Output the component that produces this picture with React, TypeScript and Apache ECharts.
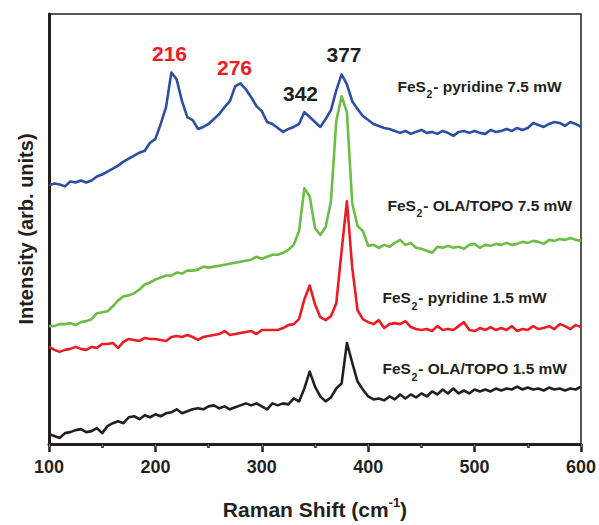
import React, { useEffect, useRef } from "react";
import * as echarts from "echarts";

// Raman shift (cm-1) sample positions
const ramanShift = [
  100, 105, 110, 115, 120, 125, 130, 135, 140, 145,
  150, 155, 160, 165, 170, 175, 180, 185, 190, 195,
  200, 205, 210, 215, 220, 225, 230, 235, 240, 245,
  250, 255, 260, 265, 270, 275, 280, 285, 290, 295,
  300, 305, 310, 315, 320, 325, 330, 335, 340, 345,
  350, 355, 360, 365, 370, 375, 380, 385, 390, 395,
  400, 405, 410, 415, 420, 425, 430, 435, 440, 445,
  450, 455, 460, 465, 470, 475, 480, 485, 490, 495,
  500, 505, 510, 515, 520, 525, 530, 535, 540, 545,
  550, 555, 560, 565, 570, 575, 580, 585, 590, 595,
  600,
];

// Intensities (arb. units, offset stacked as in the figure)
const pyridine75 = [
  261, 263, 262, 260, 265, 264, 266, 264, 266, 270,
  272, 275, 278, 281, 285, 288, 291, 294, 296, 304,
  308, 323, 340, 375, 368, 346, 330, 327, 318, 320,
  323, 328, 333, 340, 346, 361, 364, 358, 350, 341,
  336, 325, 323, 319, 315, 318, 320, 323, 335, 330,
  325, 320, 328, 337, 357, 373, 363, 346, 338, 331,
  327, 323, 321, 319, 318, 316, 314, 316, 313, 315,
  317, 314, 315, 313, 316, 314, 311, 315, 316, 314,
  316, 314, 313, 317, 315, 316, 318, 316, 319, 317,
  319, 324, 322, 320, 323, 325, 324, 321, 325, 323,
  320,
];

const olaTopo75 = [
  119, 119, 121, 121, 122, 120, 123, 124, 126, 132,
  133, 134, 139, 145, 149, 150, 152, 156, 161, 163,
  166, 168, 170, 170, 173, 172, 175, 175, 176, 179,
  178, 179, 180, 181, 182, 183, 184, 185, 186, 189,
  187, 189, 191, 191, 193, 196, 201, 215, 258, 250,
  218, 211, 219, 245, 326, 351, 335, 243, 220, 215,
  200, 201, 198, 201, 199, 203, 206, 201, 203, 198,
  197, 195, 193, 199, 198, 200, 198, 199, 197, 201,
  202, 198, 201, 200, 202, 201, 203, 201, 202, 204,
  203, 205, 204, 202, 206, 205, 207, 206, 208, 206,
  205,
];

const pyridine15 = [
  98, 95, 93, 95, 96, 98, 96, 95, 98, 97,
  101, 101, 102, 97, 103, 106, 105, 104, 107, 106,
  106, 105, 104, 108, 109, 108, 110, 108, 105, 108,
  109, 110, 111, 114, 110, 111, 112, 113, 114, 111,
  115, 115, 115, 115, 117, 120, 121, 126, 146, 160,
  141, 128, 125, 129, 142, 195, 245, 178, 135, 126,
  123, 121, 125, 117, 121, 122, 121, 124, 118, 116,
  115, 116, 114, 119, 115, 116, 115, 119, 123, 115,
  114, 117, 115, 118, 115, 117, 115, 119, 114, 116,
  115, 119, 116, 117, 119, 116, 121, 119, 116, 120,
  118,
];

const olaTopo15 = [
  10, 8, 6, 11, 12, 14, 15, 12, 13, 16,
  11, 18, 21, 23, 21, 27, 28, 25, 29, 27,
  30, 28, 31, 32, 35, 31, 33, 35, 36, 35,
  38, 39, 36, 38, 35, 37, 39, 41, 39, 41,
  38, 35, 41, 39, 41, 40, 46, 43, 56, 73,
  58, 48, 43, 47, 56, 61, 102, 82, 63, 55,
  48, 45, 46, 44, 48, 45, 50, 46, 50, 47,
  51, 48, 53, 50, 55, 51, 56, 51, 54, 51,
  55, 53, 55, 53, 56, 54, 56, 55, 58, 55,
  57, 55, 56, 54, 57, 55, 56, 54, 56, 55,
  58,
];

const peakLabels = ["216", "276", "342", "377"];
const sampleNames = ["pyridine 7.5 mW", "OLA/TOPO 7.5 mW", "pyridine 1.5 mW", "OLA/TOPO 1.5 mW"];

const FONT = "'Liberation Sans', Arial, Helvetica, sans-serif";
const INK = "#231f20";
const BLUE = "#2c4fa3";
const GREEN = "#6bbd45";
const RED = "#ec1c24";

export default function App() {
  const ref = useRef<HTMLDivElement>(null);

  useEffect(() => {
    const chart = echarts.init(ref.current!, null, { renderer: "svg" });
    const pair = (ys: number[]) => ramanShift.map((x, i) => [x, ys[i]]);
    const mkSeries = (name: string, ys: number[], color: string) => ({
      name,
      type: "line",
      data: pair(ys),
      showSymbol: false,
      symbol: "none",
      lineStyle: { color, width: 2.6, join: "round" },
      itemStyle: { color },
      silent: true,
    });

    const mainFont = `bold 15.5px ${FONT}`;
    const subFont = `bold 10.5px ${FONT}`;
    const ctx = document.createElement("canvas").getContext("2d")!;
    ctx.font = mainFont;
    const wFeS = ctx.measureText("FeS").width;
    ctx.font = subFont;
    const wSub = ctx.measureText("2").width;

    const sampleLabel = (name: string, x: number, yc: number) => ({
      type: "group",
      silent: true,
      children: [
        { type: "text", x, y: yc, style: { text: "FeS", font: mainFont, fill: INK, align: "left", verticalAlign: "middle" } },
        { type: "text", x: x + wFeS + 0.5, y: yc + 8, style: { text: "2", font: subFont, fill: INK, align: "left", verticalAlign: "middle" } },
        { type: "text", x: x + wFeS + wSub + 1.5, y: yc, style: { text: `- ${name}`, font: mainFont, fill: INK, align: "left", verticalAlign: "middle" } },
      ],
    });
    const peakText = (t: string, x: number, y: number, color: string) => ({
      type: "text",
      x,
      y,
      silent: true,
      style: {
        text: t,
        fill: color,
        font: `bold 21px ${FONT}`,
        align: "center",
        verticalAlign: "middle",
      },
    });

    chart.setOption({
      animation: false,
      backgroundColor: "#ffffff",
      grid: {
        left: 49,
        right: 15,
        top: 14,
        bottom: 77,
        show: true,
        borderColor: INK,
        borderWidth: 1.5,
      },
      xAxis: [
        {
          type: "value",
          min: 100,
          max: 600,
          interval: 100,
          axisLine: { show: true, onZero: false, lineStyle: { color: INK, width: 3 } },
          axisTick: { show: true, inside: false, length: 8, lineStyle: { color: INK, width: 2.5 } },
          minorTick: { show: true, splitNumber: 2, length: 4, lineStyle: { color: INK, width: 2.5 } },
          splitLine: { show: false },
          axisLabel: { color: INK, fontSize: 18, fontWeight: "bold", fontFamily: FONT, margin: 14 },
          name: "{a|Raman Shift (cm}{s|-1}{a|)}",
          nameLocation: "middle",
          nameGap: 52,
          nameTextStyle: {
            rich: {
              a: { fontSize: 21, fontWeight: "bold", fontFamily: FONT, color: INK, lineHeight: 24, verticalAlign: "bottom" },
              s: { fontSize: 13, fontWeight: "bold", fontFamily: FONT, color: INK, lineHeight: 12, verticalAlign: "top" },
            },
          },
        },
        {
          type: "value",
          position: "top",
          min: 100,
          max: 600,
          interval: 50,
          axisLine: { show: false },
          axisTick: { show: true, inside: true, length: 3, lineStyle: { color: "#777777", width: 1 } },
          axisLabel: { show: false },
          splitLine: { show: false },
        },
      ],
      yAxis: {
        type: "value",
        min: 0,
        max: 434,
        axisLine: { show: true, lineStyle: { color: INK, width: 3 } },
        axisTick: { show: false },
        axisLabel: { show: false },
        splitLine: { show: false },
        name: "Intensity (arb. units)",
        nameLocation: "middle",
        nameGap: 13,
        nameTextStyle: { color: INK, fontSize: 20, fontWeight: "bold", fontFamily: FONT },
      },
      series: [
        mkSeries("FeS2- OLA/TOPO 1.5 mW", olaTopo15, INK),
        mkSeries("FeS2- pyridine 1.5 mW", pyridine15, RED),
        mkSeries("FeS2- OLA/TOPO 7.5 mW", olaTopo75, GREEN),
        mkSeries("FeS2- pyridine 7.5 mW", pyridine75, BLUE),
      ],
      graphic: [
        peakText(peakLabels[0], 169.5, 53.5, RED),
        peakText(peakLabels[1], 234.5, 67, RED),
        peakText(peakLabels[2], 300.5, 93.5, INK),
        peakText(peakLabels[3], 344, 54.5, INK),
        sampleLabel(sampleNames[0], 397.5, 86),
        sampleLabel(sampleNames[1], 387.5, 205),
        sampleLabel(sampleNames[2], 382.5, 297.5),
        sampleLabel(sampleNames[3], 382.5, 368.5),
      ],
    });

    return () => chart.dispose();
  }, []);

  return (
    <div
      ref={ref}
      style={{ position: "fixed", left: 0, top: 0, width: 599, height: 525, background: "#fff" }}
    />
  );
}
